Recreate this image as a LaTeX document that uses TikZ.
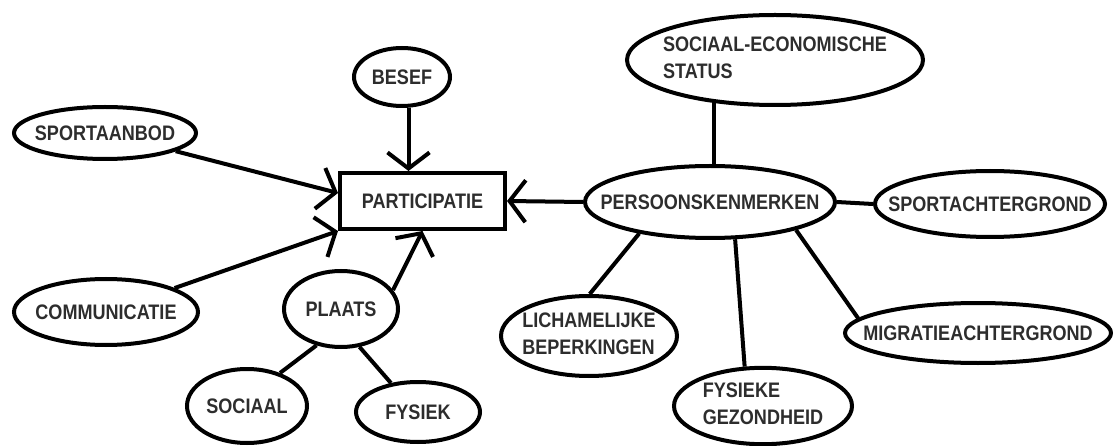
\documentclass[tikz,border=0pt]{standalone}
\usepackage{fontspec}
\setmainfont{Liberation Sans}[FakeStretch=0.86]
\usetikzlibrary{shapes.geometric,arrows.meta,calc}
\definecolor{txt}{RGB}{45,45,45}
\newcommand{\zl}[1]{\makebox[0pt][c]{#1}}
\newcommand{\zt}[2]{\makebox[0pt][c]{\begin{tabular}{@{}l@{}}#1\\#2\end{tabular}}}
\begin{document}
\begin{tikzpicture}[x=1pt,y=-1pt,
  every node/.style={font=\fontsize{21}{27}\selectfont\bfseries, text=txt},
  bub/.style={ellipse, draw=black, line width=4pt, inner sep=0pt},
  con/.style={line width=4pt},
  arr/.style={line width=4pt, -{Straight Barb[length=16pt,width=42pt]}}]
\useasboundingbox (0,0) rectangle (1113,446);
\node[bub, minimum width=96pt, minimum height=58pt] (besef) at (402,77) {\zl{BESEF}};
\node[bub, minimum width=182pt, minimum height=52pt] (spa) at (105,133) {\zl{SPORTAANBOD}};
\node[bub, minimum width=184pt, minimum height=66pt] (comm) at (106,312) {\zl{COMMUNICATIE}};
\node[draw=black, line width=4pt, minimum width=165pt, minimum height=56pt, inner sep=0pt] (part) at (422.5,201) {\zl{PARTICIPATIE}};
\node[bub, minimum width=114pt, minimum height=76pt] (plaats) at (341,309) {\zl{PLAATS}};
\node[bub, minimum width=120pt, minimum height=74pt] (soc) at (247,406) {\zl{SOCIAAL}};
\node[bub, minimum width=124pt, minimum height=60pt] (fys) at (418,412) {\zl{FYSIEK}};
\node[bub, minimum width=250pt, minimum height=72pt] (pers) at (710,202) {\zl{PERSOONSKENMERKEN}};
\node[bub, minimum width=296pt, minimum height=90pt] (ses) at (775,60) {\zt{SOCIAAL-ECONOMISCHE}{STATUS}};
\node[bub, minimum width=230pt, minimum height=66pt] (spach) at (990,204) {\zl{SPORTACHTERGROND}};
\node[bub, minimum width=176pt, minimum height=80pt] (lich) at (589,336) {\zt{LICHAMELIJKE}{BEPERKINGEN}};
\node[bub, minimum width=178pt, minimum height=76pt] (fgz) at (763,406) {\zt{FYSIEKE}{GEZONDHEID}};
\node[bub, minimum width=266pt, minimum height=60pt] (migr) at (978,333) {\zl{MIGRATIEACHTERGROND}};
\coordinate (tSpa) at ($(part.west)+(0,-8)$);
\coordinate (tBes) at ($(part.north)+(-14,0)$);
\draw[arr] (spa) -- (tSpa);
\draw[arr] (comm) -- (part.south west);
\draw[arr] (besef.south -| tBes) -- (tBes);
\draw[arr] (plaats.20) -- (part.south);
\draw[arr] (pers.west) -- (part.east);
\draw[con] (ses.215) -- (ses.215 |- pers.north);
\draw[con] (pers.east) -- (spach.west);
\draw[con] (pers.204) -- (lich.89);
\draw[con] (pers.304) -- (fgz.115);
\draw[con] (pers.342) -- (migr.173);
\draw[con] (plaats.236) -- (soc.45);
\draw[con] (plaats.296) -- (fys.133);
\end{tikzpicture}
\end{document}
